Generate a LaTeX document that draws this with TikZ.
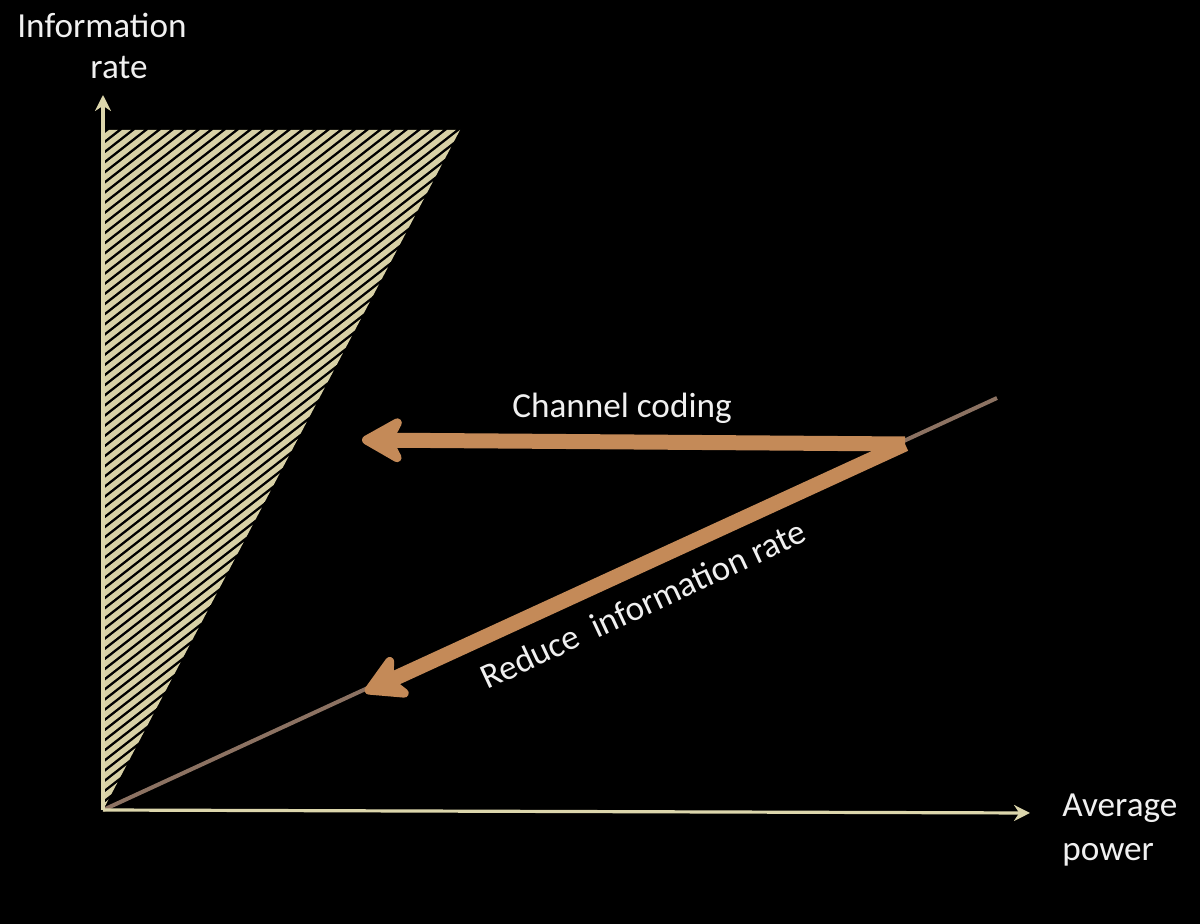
\documentclass[tikz,border=0pt]{standalone}
\usepackage{fontspec}
\setmainfont{Carlito}
\usepackage{tikz}
\usetikzlibrary{arrows.meta}
\definecolor{bgblack}{HTML}{000000}
\definecolor{axbeige}{HTML}{DCD6AC}
\definecolor{hatchbeige}{HTML}{D8D1A6}
\definecolor{ratebrown}{HTML}{8C7262}
\definecolor{codeorange}{HTML}{C48A58}
\tikzset{
  axisline/.style={-{Stealth[length=8pt,width=8pt]},line width=1.6pt,axbeige},
  hatchline/.style={line width=2.7pt,hatchbeige},
  rateline/.style={line width=2pt,ratebrown},
  bigarrow/.style={-{Stealth[length=25pt,width=28pt,inset=7pt,round]},line width=7.5pt,codeorange},
  lbl/.style={text=white!94!black,font=\fontsize{17.6}{22}\selectfont,inner sep=0pt},
}

\begin{document}
\begin{tikzpicture}[x=0.5pt,y=-0.5pt]
    \fill[bgblack] (0,0) rectangle (1200,924);
    \useasboundingbox (0,0) rectangle (1200,924);
    % axes and the achievable region
    \coordinate (O) at (103,810);
    \coordinate (ytop) at (103,95);
    \coordinate (xend) at (1030,813);
    \coordinate (T1) at (103,130);
    \coordinate (T2) at (460,130);
    \begin{scope}
      \clip (O) -- (T1) -- (T2) -- cycle;
      \foreach \k in {0,...,100}
        \draw[hatchline] ({-800+13*\k},812) -- ++(1000,-780);
    \end{scope}
    \coordinate (Rend) at (997,398);
    \draw[rateline] (O) -- (Rend);
    \draw[axisline] (O) -- (ytop);
    \draw[axisline] (O) -- (xend);
    % operating point and the two moves
    \coordinate (P) at (905,444);
    \coordinate (Ctip) at (362,440);
    \coordinate (Rtip) at (365,692);
    \draw[bigarrow] (P) -- (Ctip);
    \draw[bigarrow] (P) -- (Rtip);
    \node[lbl] (chcod) at (622,408) {Channel coding};
    \node[lbl,rotate=25] (redrate) at (643,604) {Reduce\ \ information rate};
    \node[lbl] (yinfo) at (102,25) {Information};
    \node[lbl] (yrate) at (119,68) {rate};
    \node[lbl,anchor=west,align=left] (xlab) at (1062,830) {Average\\power};
  \end{tikzpicture}
\end{document}
